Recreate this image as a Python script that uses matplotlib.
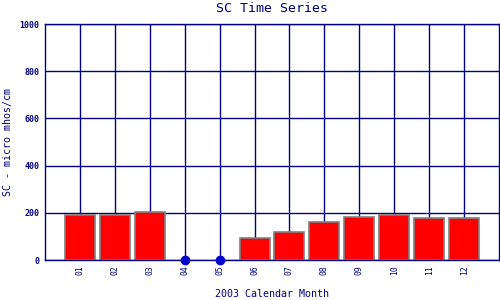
import matplotlib
matplotlib.use("Agg")
import matplotlib.pyplot as plt
import numpy as np

months = ["01", "02", "03", "04", "05", "06", "07", "08", "09", "10", "11", "12"]
values = [189, 189, 202, None, None, 92, 117, 160, 181, 189, 177, 177]
yticks = [0, 200, 400, 600, 800, 1000]

navy = "#000080"
fig = plt.figure(figsize=(5, 3), dpi=100)
ax = fig.add_axes([0.09, 0.1333, 0.908, 0.7867])

x = np.arange(1, len(months) + 1)
present = [(xi, v) for xi, v in zip(x, values) if v is not None]
missing = [xi for xi, v in zip(x, values) if v is None]

ax.set_axisbelow(True)
ax.grid(True, color=navy, linewidth=1.0)
ax.bar([p[0] for p in present], [p[1] for p in present], width=0.86,
       color="#ff0000", edgecolor="#808080", linewidth=1.2, zorder=2)
ax.plot(missing, [0] * len(missing), "o", color="#0000cc", markersize=6, zorder=4, clip_on=False)

ax.set_xlim(0, 13)
ax.set_ylim(0, 1000)
ax.set_xticks(x)
ax.set_xticklabels(months, rotation=90, fontsize=5.8, family="DejaVu Sans Mono", color=navy)
ax.set_yticks(yticks)
ax.set_yticklabels([str(t) for t in yticks], fontsize=6, fontweight="bold",
                   family="DejaVu Sans Mono", color=navy)
ax.tick_params(length=0, pad=4)
for s in ax.spines.values():
    s.set_color(navy)
    s.set_linewidth(1.0)
    s.set_zorder(3)

fig.text(0.544, 0.97, "SC Time Series", ha="center", va="center", fontsize=9.5,
         family="DejaVu Sans Mono", color=navy)
fig.text(0.544, 0.02, "2003 Calendar Month", ha="center", va="center", fontsize=7.2,
         family="DejaVu Sans Mono", color=navy)
fig.text(0.016, 0.527, "SC - micro mhos/cm", ha="center", va="center", rotation=90,
         fontsize=7.2, family="DejaVu Sans Mono", color=navy)

fig.savefig("out.png", dpi=100)
